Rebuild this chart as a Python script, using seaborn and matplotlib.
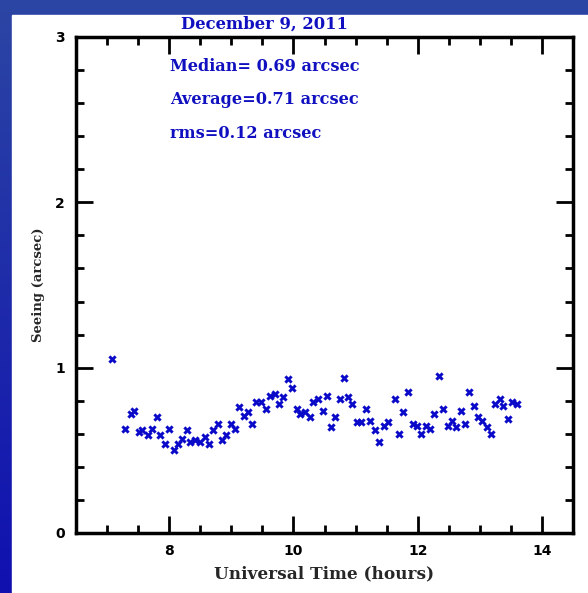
import numpy as np
import pandas as pd
import matplotlib
matplotlib.use("Agg")
import matplotlib.pyplot as plt
from matplotlib.colors import LinearSegmentedColormap
from matplotlib.patches import Rectangle
from matplotlib.ticker import MultipleLocator
import seaborn as sns

# Seeing measurements, December 9, 2011 (UT hours, arcsec)
ut_hours = [
    7.08, 7.29, 7.38, 7.44, 7.52, 7.57, 7.66, 7.72, 7.80, 7.86,
    7.93, 8.00, 8.07, 8.14, 8.21, 8.28, 8.34, 8.42, 8.49, 8.57,
    8.64, 8.70, 8.78, 8.85, 8.91, 8.99, 9.06, 9.13, 9.20, 9.27,
    9.34, 9.40, 9.48, 9.56, 9.63, 9.70, 9.77, 9.84, 9.91, 9.97,
    10.05, 10.11, 10.18, 10.26, 10.32, 10.40, 10.47, 10.54, 10.61, 10.67,
    10.75, 10.81, 10.88, 10.95, 11.02, 11.09, 11.17, 11.23, 11.31, 11.38,
    11.45, 11.52, 11.64, 11.70, 11.77, 11.85, 11.92, 11.99, 12.06, 12.13,
    12.20, 12.27, 12.35, 12.41, 12.48, 12.55, 12.62, 12.69, 12.76, 12.83,
    12.90, 12.97, 13.04, 13.11, 13.18, 13.25, 13.32, 13.38, 13.46, 13.52,
    13.60,
]
seeing = [
    1.05, 0.63, 0.72, 0.74, 0.61, 0.62, 0.59, 0.63, 0.70, 0.59,
    0.54, 0.63, 0.50, 0.54, 0.57, 0.62, 0.55, 0.56, 0.55, 0.58,
    0.54, 0.62, 0.66, 0.56, 0.59, 0.66, 0.63, 0.76, 0.71, 0.73,
    0.66, 0.79, 0.79, 0.75, 0.83, 0.84, 0.78, 0.82, 0.93, 0.88,
    0.75, 0.72, 0.73, 0.70, 0.79, 0.81, 0.74, 0.83, 0.64, 0.70,
    0.81, 0.94, 0.82, 0.78, 0.67, 0.67, 0.75, 0.68, 0.62, 0.55,
    0.65, 0.67, 0.81, 0.60, 0.73, 0.85, 0.66, 0.65, 0.60, 0.65,
    0.63, 0.72, 0.95, 0.75, 0.65, 0.68, 0.64, 0.74, 0.66, 0.85,
    0.77, 0.70, 0.68, 0.64, 0.60, 0.78, 0.81, 0.77, 0.69, 0.79,
    0.78,
]

title_text = "December 9, 2011"
stats_lines = ["Median= 0.69 arcsec", "Average=0.71 arcsec", "rms=0.12 arcsec"]

df = pd.DataFrame({"ut": ut_hours, "seeing": seeing})

sns.set_style("ticks")
BLUE = "#1010c0"
SERIF = ["DejaVu Serif"]

fig = plt.figure(figsize=(5.88, 5.93), dpi=100)

# blue slide-style background with white panel
bg = fig.add_axes([0, 0, 1, 1], zorder=-5)
cmap = LinearSegmentedColormap.from_list("slide", ["#1010b0", "#2c46a4"])
grad = np.linspace(0, 1, 256).reshape(-1, 1)
bg.imshow(grad, aspect="auto", cmap=cmap, origin="lower", extent=[0, 588, 0, 593])
bg.add_patch(Rectangle((12, 0), 576, 578, color="white"))
bg.set_xlim(0, 588)
bg.set_ylim(0, 593)
bg.axis("off")

ax = fig.add_axes([76 / 588, 60 / 593, 497 / 588, 496 / 593])
ax.set_facecolor("white")
sns.scatterplot(data=df, x="ut", y="seeing", ax=ax, marker="X", s=36,
                color="#0a0ac8", linewidth=0)

ax.set_xlim(6.5, 14.5)
ax.set_ylim(0, 3)
ax.xaxis.set_major_locator(MultipleLocator(2))
ax.xaxis.set_minor_locator(MultipleLocator(0.5))
ax.yaxis.set_major_locator(MultipleLocator(1))
ax.yaxis.set_minor_locator(MultipleLocator(0.2))
ax.tick_params(which="both", direction="in", top=True, right=True, width=2,
               colors="black", labelsize=10, pad=8)
ax.tick_params(which="major", length=12)
ax.tick_params(which="minor", length=6)
for lab in ax.get_xticklabels() + ax.get_yticklabels():
    lab.set_fontweight("bold")
for sp in ax.spines.values():
    sp.set_linewidth(2.5)
    sp.set_color("black")

ax.set_xlabel("Universal Time (hours)", fontsize=12.2, fontweight="bold",
              family=SERIF, labelpad=5)
ax.set_ylabel("Seeing (arcsec)", fontsize=9.5, fontweight="bold",
              family=SERIF, labelpad=7)

fig.text(264 / 588, 1 - 24 / 593, title_text, color=BLUE, fontsize=11.8,
         fontweight="bold", family=SERIF, ha="center", va="center")
for i, line in enumerate(stats_lines):
    ax.text(0.19, 0.94 - i * 0.067, line, transform=ax.transAxes, color=BLUE,
            fontsize=11.6, fontweight="bold", family=SERIF, ha="left", va="center")

fig.savefig("out.png", dpi=100)
